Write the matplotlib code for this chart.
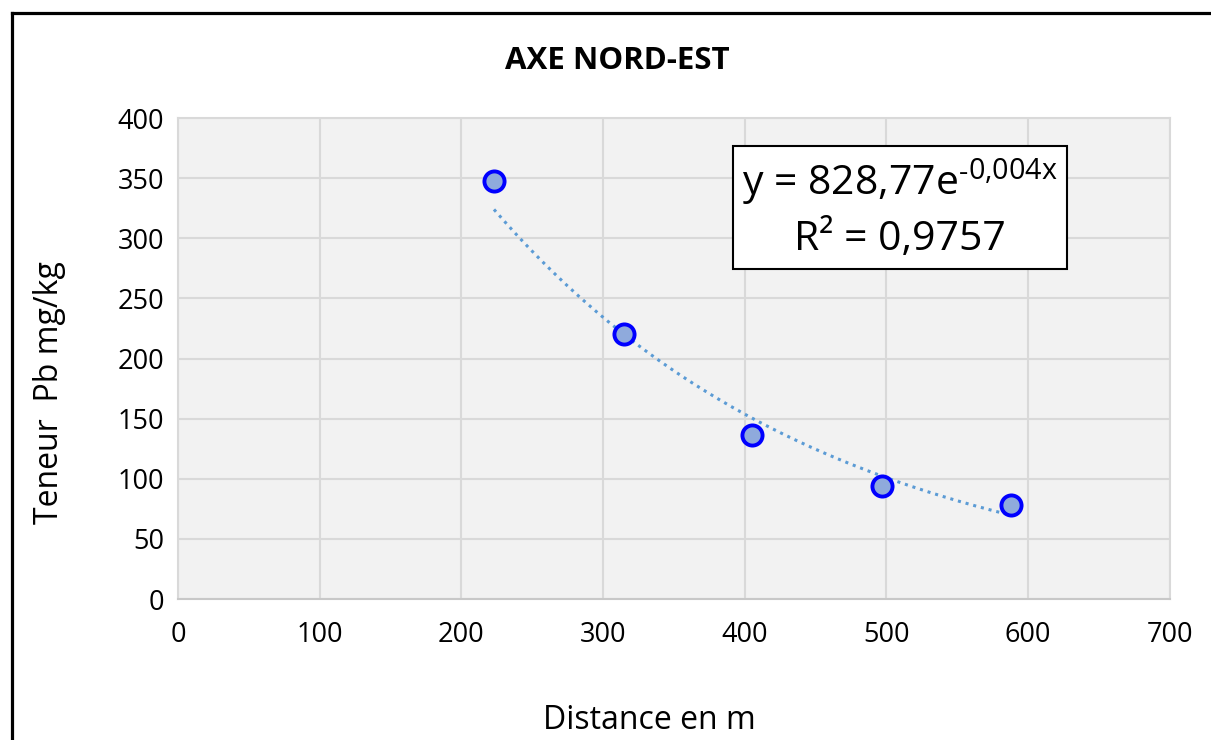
import matplotlib.pyplot as plt
import numpy as np
from matplotlib.lines import Line2D

plt.rcParams['font.family'] = ['Open Sans', 'DejaVu Sans']
plt.rcParams['mathtext.fontset'] = 'custom'
plt.rcParams['mathtext.rm'] = 'Open Sans'

# Distance (m) vs lead content (mg/kg)
distance = [223, 315, 405, 497, 588]
teneur_pb = [348, 220, 136, 94, 78]
x_ticks = [0, 100, 200, 300, 400, 500, 600, 700]
y_ticks = [0, 50, 100, 150, 200, 250, 300, 350, 400]
equation = "y = 828,77e" + "$^{\\mathrm{\u20100{,}004x}}$"
r_squared = "R² = 0,9757"

fig = plt.figure(figsize=(12.11, 7.40), dpi=100)
ax = fig.add_axes([0.147, 0.1905, 0.819, 0.65])
ax.set_facecolor('#f2f2f2')

# exponential trendline fitted in log space
k, ln_a = np.polyfit(distance, np.log(teneur_pb), 1)
xs = np.linspace(min(distance), max(distance), 200)
ax.plot(xs, np.exp(ln_a) * np.exp(k * xs), linestyle=(0, (1, 1.6)),
        color='#5b9bd5', linewidth=2.2, zorder=3)

ax.plot(distance, teneur_pb, 'o', markersize=14.5, markerfacecolor='#8faadc',
        markeredgecolor='#0000ff', markeredgewidth=2.8, zorder=4)

ax.set_xlim(0, 700)
ax.set_ylim(0, 400)
ax.set_xticks(x_ticks)
ax.set_yticks(y_ticks)
ax.tick_params(length=0, labelsize=19.5, colors='#000000', pad=10)
ax.tick_params(axis='x', pad=16)
ax.grid(True, color='#d9d9d9', linewidth=1.5)
ax.set_axisbelow(True)
for side in ['top', 'right', 'left']:
    ax.spines[side].set_color('#d9d9d9')
    ax.spines[side].set_linewidth(1.5)
ax.spines['bottom'].set_color('#c8c8c8')
ax.spines['bottom'].set_linewidth(1.5)

ax.text(0.728, 0.812, equation + "\n" + r_squared, transform=ax.transAxes,
        ha='center', va='center', fontsize=29.5, linespacing=1.35,
        bbox=dict(boxstyle='square,pad=0.22', facecolor='white',
                  edgecolor='black', linewidth=1.5))

fig.text(0.51, 0.917, "AXE NORD-EST", ha='center', va='center',
         fontsize=22.5, fontweight='bold')
fig.text(0.536, 0.027, "Distance en m", ha='center', va='center', fontsize=23)
fig.text(0.041, 0.47, "Teneur  Pb mg/kg", ha='center', va='center',
         rotation=90, fontsize=23)

# outer chart frame (top and left edges)
fig.add_artist(Line2D([0.0095, 1.0], [0.9825, 0.9825], color='black',
                      linewidth=2.3, transform=fig.transFigure))
fig.add_artist(Line2D([0.0095, 0.0095], [0.0, 0.9825], color='black',
                      linewidth=2.3, transform=fig.transFigure))

fig.savefig("out.png", dpi=100)
